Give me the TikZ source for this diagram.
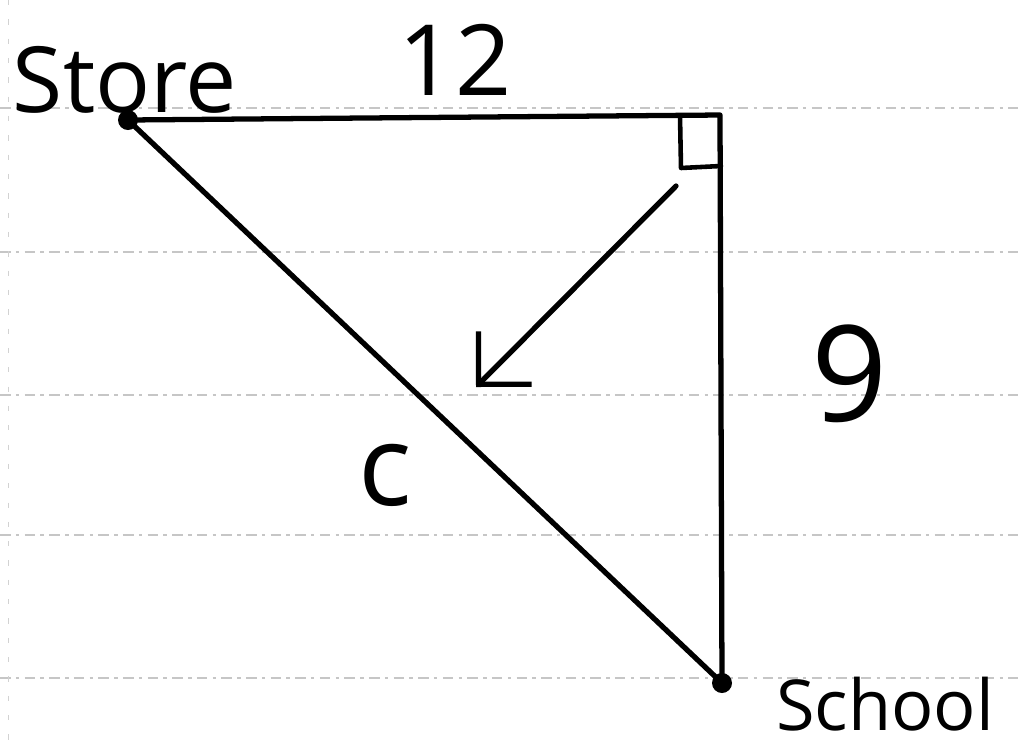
\documentclass[tikz,border=0pt]{standalone}
\usepackage{fontspec}
\setmainfont{Open Sans}
\usetikzlibrary{arrows.meta}
\begin{document}
\begin{tikzpicture}[x=0.02cm,y=-0.02cm,
  ruled/.style={draw=gray!45,line width=0.6pt,dash pattern=on 6pt off 3pt on 2pt off 3pt},
  side/.style={draw=black,line width=3pt,line cap=round,line join=round},
  lbl/.style={anchor=base,inner sep=0pt,text=black},
  vdot/.style={circle,fill=black,inner sep=0pt,minimum size=0.4cm}]
\useasboundingbox (0,0) rectangle (1018,752);
% ruled paper lines
\foreach \yy in {108,252,395,535,678}{
  \draw[ruled] (0,\yy) -- (1018,\yy);
}
\draw[draw=gray!35,line width=0.5pt,dash pattern=on 3pt off 8pt] (8,0) -- (8,752);
% vertices
\coordinate (store) at (128,120);
\coordinate (corner) at (720,115);
\coordinate (school) at (722,683);
\node[vdot] (storedot) at (store) {};
\node[vdot] (schooldot) at (school) {};
% triangle sides
\draw[side] (store) -- (corner) -- (school) -- (store);
% right-angle mark
\coordinate (ra1) at (680,116);
\coordinate (ra2) at (681,168);
\coordinate (ra3) at (721,166);
\draw[side,line width=2.6pt] (ra1) -- (ra2) -- (ra3);
% arrow
\coordinate (arrS) at (676,186);
\coordinate (arrE) at (476,387);
\draw[side,-{Straight Barb[length=0.75cm,width=1.5cm,line width=3pt]}] (arrS) -- (arrE);
% labels
\node[lbl,font=\fontsize{52}{60}\selectfont] (storelbl) at (125,112) {Store};
\node[lbl,font=\fontsize{56}{64}\selectfont] (twelve) at (455,95) {12};
\node[lbl,font=\fontsize{76}{86}\selectfont] (nine) at (850,421) {9};
\node[lbl,font=\fontsize{64}{72}\selectfont] (clbl) at (385,505) {c};
\node[lbl,font=\fontsize{40}{48}\selectfont] (schoollbl) at (885,730) {School};
\end{tikzpicture}
\end{document}
